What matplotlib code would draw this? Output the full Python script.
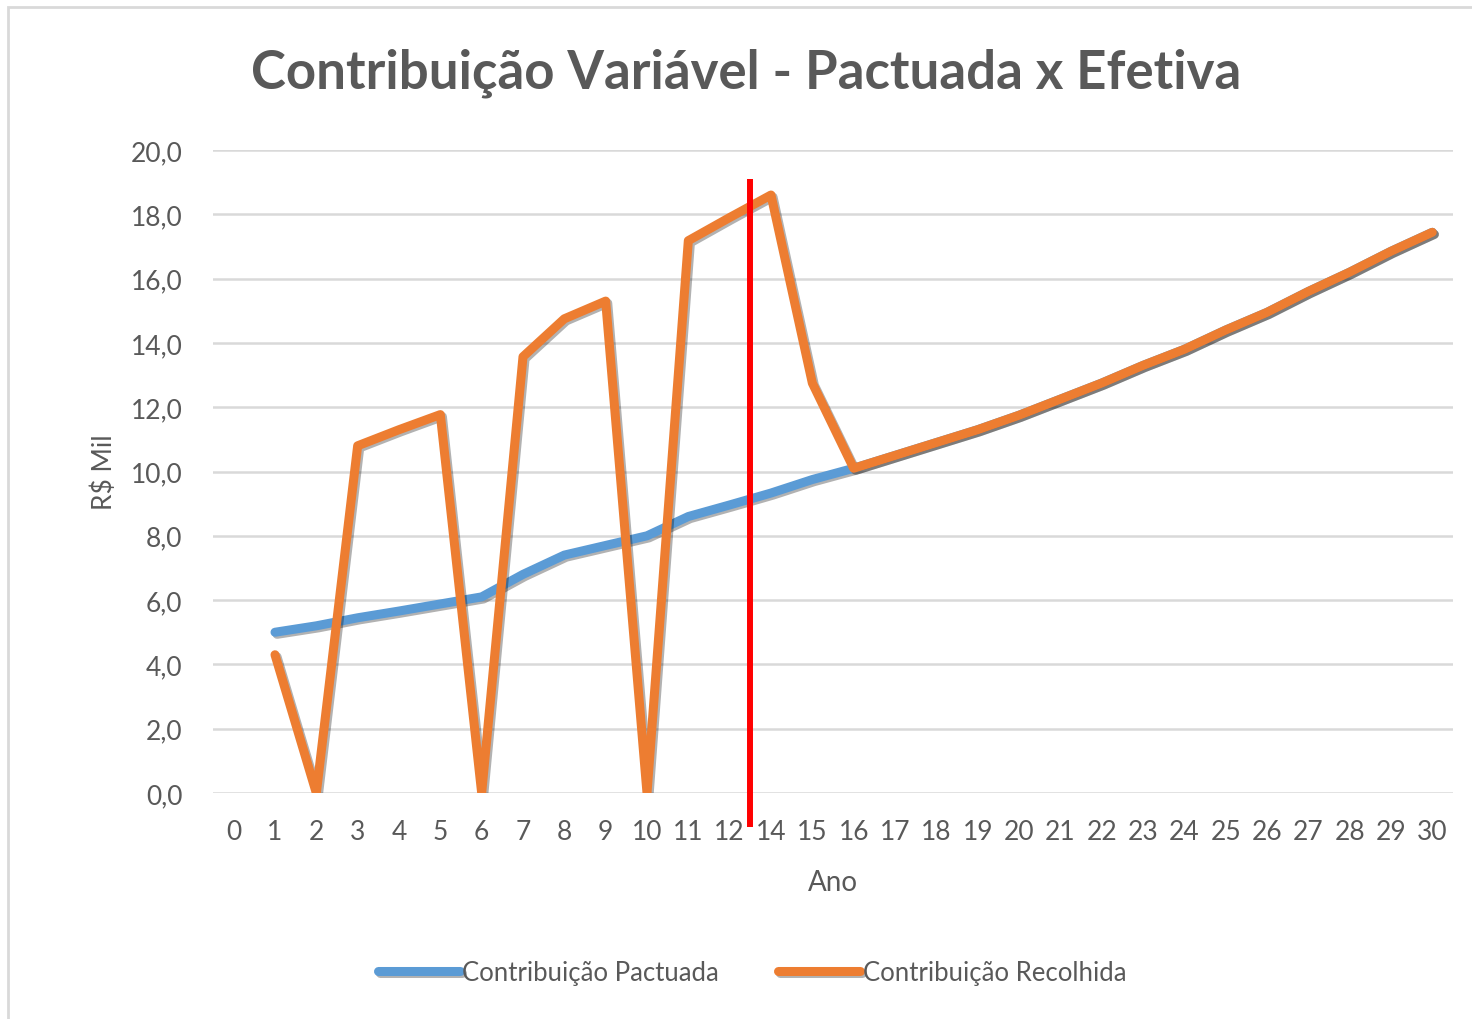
import matplotlib
matplotlib.use("Agg")
import matplotlib.pyplot as plt
import matplotlib.patheffects as pe
from matplotlib.patches import Rectangle
import numpy as np

# dados (R$ mil por ano)
anos = ['0', '1', '2', '3', '4', '5', '6', '7', '8', '9', '10', '11', '12',
        '14', '15', '16', '17', '18', '19', '20', '21', '22', '23', '24',
        '25', '26', '27', '28', '29', '30']
pactuada = [np.nan, 5.0, 5.2, 5.45, 5.66, 5.88, 6.1, 6.8, 7.4, 7.7, 8.0, 8.6, 8.96,
            9.33, 9.75, 10.1, 10.5, 10.9, 11.3, 11.75, 12.25, 12.75, 13.3, 13.8,
            14.4, 14.95, 15.6, 16.2, 16.85, 17.44]
recolhida = [np.nan, 4.3, 0.0, 10.8, 11.3, 11.77, 0.0, 13.57, 14.75, 15.3, 0.0, 17.18, 17.9,
             18.6, 12.75, 10.1, 10.5, 10.9, 11.3, 11.75, 12.25, 12.75, 13.3, 13.8,
             14.4, 14.95, 15.6, 16.2, 16.85, 17.44]
yticks = np.arange(0, 21, 2)

# linha vermelha de marcacao (entre o ano 12 e o 14)
marca_x = 12.5
marca_y = (-1.05, 19.1)

cinza = '#595959'
azul = '#5B9BD5'
laranja = '#ED7D31'

plt.rcParams['font.family'] = ['Lato', 'DejaVu Sans']

fig = plt.figure(figsize=(14.72, 10.2), dpi=100)
ax = fig.add_axes([213 / 1472, 1 - 794 / 1020, 1240 / 1472, 643 / 1020])

x = np.arange(len(anos))
sombra = [pe.SimpleLineShadow(offset=(1.5, -1.5), alpha=0.3, shadow_color='black'), pe.Normal()]
ax.plot(x, pactuada, color=azul, lw=6.5, solid_capstyle='round', solid_joinstyle='round',
        label='Contribuição Pactuada', zorder=3, path_effects=sombra)
ax.plot(x, recolhida, color=laranja, lw=6.5, solid_capstyle='round', solid_joinstyle='round',
        label='Contribuição Recolhida', zorder=4, path_effects=sombra)
ax.plot([marca_x, marca_x], marca_y, color='#FF0000', lw=4.3, zorder=5, clip_on=False,
        solid_capstyle='butt')

ax.set_xlim(-0.5, len(anos) - 0.5)
ax.set_ylim(0, 20)
ax.set_xticks(x)
ax.set_xticklabels(anos)
ax.set_yticks(yticks)
ax.set_yticklabels([f'{v:.1f}'.replace('.', ',') for v in yticks])
ax.grid(axis='y', color='#D9D9D9', lw=1.8, zorder=0)
ax.set_axisbelow(True)
for s in ax.spines.values():
    s.set_visible(False)
ax.tick_params(axis='both', length=0, colors=cinza, labelsize=19)
ax.tick_params(axis='y', pad=22)
ax.tick_params(axis='x', pad=19)

ax.set_xlabel('Ano', fontsize=20, color=cinza, labelpad=18)
ax.set_ylabel('R$ Mil', fontsize=19, color=cinza, labelpad=10)

fig.text(746 / 1472, 1 - 73 / 1020, 'Contribuição Variável - Pactuada x Efetiva',
         ha='center', va='center', fontsize=38, fontweight='bold', color=cinza)

leg = fig.legend(loc='center', bbox_to_anchor=(752 / 1472, 1 - 973 / 1020), ncol=2,
                 frameon=False, fontsize=18.5, handlelength=3.2, handletextpad=0.1,
                 columnspacing=2.3)
for t in leg.get_texts():
    t.set_color(cinza)

# borda do grafico
fig.add_artist(Rectangle((8 / 1472, -0.05), 1.1, 1 - 8 / 1020 + 0.05,
                         transform=fig.transFigure, fill=False, ec='#D9D9D9', lw=2))

fig.savefig('out.png', dpi=100)
